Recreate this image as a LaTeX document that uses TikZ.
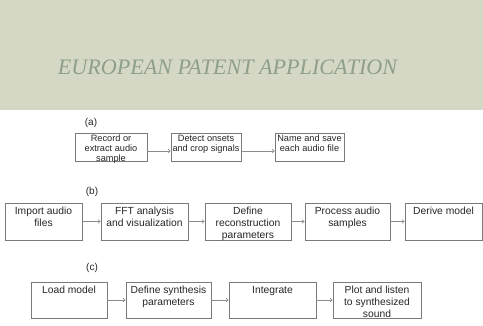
\documentclass[tikz,border=0pt]{standalone}
\usepackage{fontspec}
\setmainfont{Liberation Sans}
\newfontfamily\titlefont{Liberation Serif}
\usetikzlibrary{arrows.meta}
\definecolor{bandgreen}{HTML}{D5D8C4}
\definecolor{titlegreen}{HTML}{8E9F8A}
\definecolor{boxline}{HTML}{7A7A7A}
\definecolor{arrowline}{HTML}{8C8C8C}
\definecolor{ink}{HTML}{262626}
\tikzset{
  flowbox/.style={draw=boxline, line width=0.7pt, inner sep=0pt, rectangle},
  flowtext/.style={anchor=north, inner sep=0pt, align=center, text=ink,
    font=\fontsize{10.3}{11.8}\selectfont},
  smalltext/.style={flowtext, font=\fontsize{9.2}{10}\selectfont},
  steplabel/.style={inner sep=0pt, text=ink, font=\fontsize{10}{12}\selectfont},
  flowarrow/.style={draw=arrowline, line width=0.6pt,
    -{Straight Barb[length=2.2pt,width=3.6pt]}}
}
% box: name, left, top, right, bottom
\newcommand\placebox[5]{%
  \node[flowbox, minimum width={#4-#2}, minimum height={#5-#3}]
    (#1) at ({(#2+#4)/2},{(#3+#5)/2}) {};}
\begin{document}
\begin{tikzpicture}[x=1pt,y=-1pt]
  \useasboundingbox (0,0) rectangle (483,326);
  \fill[white] (0,0) rectangle (483,326);
  % header band
  \fill[bandgreen] (0,0) rectangle (483,110);
  \node[anchor=base, inner sep=0pt, text=titlegreen,
        font=\titlefont\itshape\fontsize{22.1}{24}\selectfont]
    (title) at (227.5,75) {EUROPEAN PATENT APPLICATION};

  % ---- (a) ----
  \node[steplabel] (la) at (91,123) {(a)};
  \placebox{a1}{75}{133}{147}{161}
  \placebox{a2}{171}{133}{241}{161}
  \placebox{a3}{275}{133}{344}{161}
  \node[smalltext] (a1t) at ([yshift=-2.2pt]a1.north) {Record or\\extract audio\\sample};
  \node[smalltext] (a2t) at ([yshift=-2.2pt]a2.north) {Detect onsets\\and crop signals};
  \node[smalltext] (a3t) at ([yshift=-2.2pt]a3.north) {Name and save\\each audio file};
  \draw[flowarrow] ([yshift=-4pt]a1.east) -- ([yshift=-4pt]a2.west);
  \draw[flowarrow] ([yshift=-4pt]a2.east) -- ([yshift=-4pt]a3.west);

  % ---- (b) ----
  \node[steplabel] (lb) at (92,192) {(b)};
  \placebox{b1}{5}{203}{82}{240}
  \placebox{b2}{101}{203}{188}{240}
  \placebox{b3}{205}{203}{291}{240}
  \placebox{b4}{305}{203}{390}{240}
  \placebox{b5}{405}{203}{482}{240}
  \node[flowtext] (b1t) at ([yshift=-4.5pt]b1.north) {Import audio\\files};
  \node[flowtext] (b2t) at ([yshift=-4.5pt]b2.north) {FFT analysis\\and visualization};
  \node[flowtext] (b3t) at ([yshift=-4.5pt]b3.north) {Define\\reconstruction\\parameters};
  \node[flowtext] (b4t) at ([yshift=-4.5pt]b4.north) {Process audio\\samples};
  \node[flowtext] (b5t) at ([yshift=-4.5pt]b5.north) {Derive model};
  \draw[flowarrow] (b1) -- (b2);
  \draw[flowarrow] (b2) -- (b3);
  \draw[flowarrow] (b3) -- (b4);
  \draw[flowarrow] (b4) -- (b5);

  % ---- (c) ----
  \node[steplabel] (lc) at (92,268) {(c)};
  \placebox{c1}{31}{282}{107}{318}
  \placebox{c2}{126}{282}{211}{318}
  \placebox{c3}{229}{282}{316}{318}
  \placebox{c4}{333}{282}{421}{318}
  \node[flowtext] (c1t) at ([yshift=-4.5pt]c1.north) {Load model};
  \node[flowtext] (c2t) at ([yshift=-4.5pt]c2.north) {Define synthesis\\parameters};
  \node[flowtext] (c3t) at ([yshift=-4.5pt]c3.north) {Integrate};
  \node[flowtext] (c4t) at ([yshift=-4.5pt]c4.north) {Plot and listen\\to synthesized\\sound};
  \draw[flowarrow] (c1) -- (c2);
  \draw[flowarrow] (c2) -- (c3);
  \draw[flowarrow] (c3) -- (c4);
\end{tikzpicture}
\end{document}
